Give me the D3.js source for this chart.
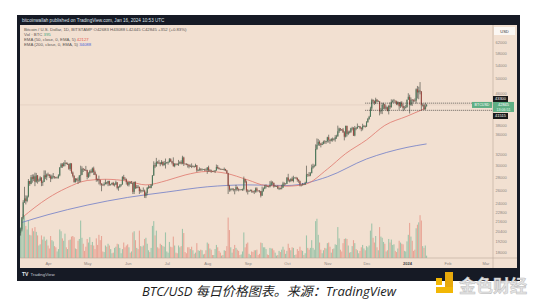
<!DOCTYPE html>
<html>
<head>
<meta charset="utf-8">
<script src="https://cdn.jsdelivr.net/npm/d3@7"></script>
<style>
html, body { margin: 0; padding: 0; background: #fff; }
svg { display: block; font-family: "Liberation Sans", Arial, sans-serif; }
</style>
</head>
<body>
<script>

// daily BTC/USD candles (Bitstamp), first day 2023-03-10, open of a day = previous close
var startDate = "2023-03-10";
var firstOpen = 20360;

var closes = [
  20190,20630,22150,24200,24750,24380,25050,27420,26960,28040,27770,28170,27300,28330,27480,27490,27990,27140,27270,28350,28030,28480,
  28460,28200,27800,28170,28170,28040,27920,27950,28330,29660,30230,29900,30400,30490,30320,30320,29440,30400,28820,28250,27270,27820,27590,27510,28300,28420,29470,29340,29240,29230,
  28070,28680,29030,28850,29530,28900,28430,27660,27620,27600,27000,26800,26790,26920,27180,27030,27400,26830,26890,27120,26750,26850,27220,26330,26480,26720,26860,28080,27750,27700,27220,
  26820,27250,27070,27120,25730,27230,26340,26500,26480,25840,25950,25900,25920,25130,25570,26340,26510,26340,26840,28310,30080,29890,30690,30540,30480,30270,30690,30080,30440,30470,
  30590,30620,31150,30770,30500,29900,30350,30290,30170,30410,30620,30390,31470,30330,30300,30250,30140,29860,29910,29810,29910,29810,30080,29180,29230,29350,29220,29320,29360,29280,29230,
  29700,29170,29180,29080,29050,29060,29180,29770,29580,29430,29400,29420,29290,29410,29170,28700,26620,26050,26100,26190,26120,26040,26430,26160,26060,26000,26090,26100,27720,27300,25930,
  25800,25870,25970,25820,25780,25750,26240,25910,25890,25830,25160,25840,26220,26530,26600,26560,26530,26760,27210,27120,26570,26580,26580,26250,26300,26220,26360,27020,26900,26970,
  27980,27510,27430,27790,27420,27950,27960,27930,27590,27390,26870,26760,26860,26850,27150,28500,28400,28330,28700,29670,29920,30000,33090,33900,34500,34150,33900,34100,34540,34500,34660,
  35440,34950,34740,35080,35040,35040,35440,35640,36700,37320,37140,37070,36500,35560,37880,36160,36600,36570,37350,37460,35800,37420,37300,37720,37800,37460,37250,37830,37860,37730,
  38690,39470,39980,41980,44080,43780,43300,44170,43720,43780,41240,41470,42880,43020,41930,42250,41360,42660,42270,43650,43860,43990,43730,43010,43580,42520,43440,42600,42070,42140,42280,
  44180,44950,42850,44180,44160,43970,43930,46970,46110,46630,46350,42780,42850,41730,42493,42845
];

var highs = [
  20370,20800,22180,24500,26500,25200,25200,27740,27450,28400,28500,28500,28800,28750,28400,27780,28200,28000,27500,29180,29170,28650,
  28800,28530,28480,28450,28740,28180,28100,28150,28530,29770,30480,30470,30620,31000,30600,30550,30320,30490,30400,29000,28370,27880,27820,28000,28400,30000,29880,29580,29440,29960,
  29300,28880,29270,29370,29690,29830,29150,28600,27820,28300,27620,27050,27000,27200,27660,27280,27470,27480,26970,27150,27280,27060,27480,27220,26600,26920,26930,28200,28430,28030,27820,
  27350,27300,27300,27420,27120,27340,27370,26800,26780,26530,26200,26000,26400,26070,25750,26480,26770,26680,26890,28400,30780,30500,31400,30800,31050,30650,31000,30700,30830,31280,
  30660,30780,31380,31330,30880,31500,30440,30380,30440,31030,30800,30970,31800,31620,30400,30450,30340,30240,30200,30400,30060,29990,30350,30100,29370,29700,29570,29530,29410,29460,29530,
  29730,30000,29400,29310,29110,29170,29240,30200,30100,29700,29520,29470,29450,29670,29450,29250,28770,26800,26260,26290,26260,26130,26800,26550,26270,26110,26160,26220,28140,27750,27500,
  26130,25970,26100,26080,25870,26000,26400,26430,25940,26000,25880,26540,26400,26800,26870,26650,26620,27400,27490,27380,27160,26740,26640,26720,26420,26390,26820,27300,27200,27080,
  28040,28600,27680,27830,28120,28280,28010,28100,27990,27730,27480,26820,27100,26960,27300,30000,28600,28900,28900,30200,30350,30200,34000,35200,35100,34800,34250,34450,34750,34850,34700,
  35550,35980,34970,35260,35390,35280,35900,35970,37950,37500,37400,37200,37430,36750,37950,37950,36850,36850,37470,37700,37600,37870,37640,38420,37900,37830,37580,38370,38100,38000,
  38970,39700,40200,42400,44450,44300,44000,44700,44370,44050,43780,42100,43400,43400,43090,42700,42430,42750,43490,44280,44200,44380,43800,43940,43800,43600,43680,43800,43120,42600,42880,
  44200,45900,45500,44770,44350,44230,44500,47230,47900,47700,49000,46500,43250,43080,43400,43088
];

var lows = [
  19570,19900,20400,21900,24100,23900,24200,24900,26650,26900,27150,27400,26600,27150,27000,27250,27400,26600,26650,27250,27720,27550,
  28250,27900,27250,27700,27840,27800,27800,27880,27800,28180,29650,29600,29870,29900,30230,30130,29270,29100,28600,28000,27140,27150,27330,26950,27200,27240,28380,28900,29100,29060,
  27680,27900,28130,28700,28800,28400,28380,27300,27350,26880,26700,25820,26700,26600,26880,26870,26600,26650,26670,26850,26700,26540,26800,26100,25900,26350,26550,26850,27560,27580,26850,
  26600,26550,26950,26970,25400,25400,26150,26230,26300,25400,25600,25650,25750,24830,24800,25200,26180,26280,26270,26640,28280,29570,29820,30300,30270,29900,30220,29900,30050,29500,
  30330,30180,30570,30650,30220,29850,29720,30050,30080,29950,30300,30220,30250,29950,30250,30080,29670,29530,29770,29580,29740,29640,29750,28880,29050,29100,29100,29140,29260,29040,29110,
  28600,28960,28960,28760,28960,28970,28730,29110,29400,29330,29300,29360,29250,29100,29050,28700,25400,25750,25800,25970,25800,25360,25800,25900,25800,25980,25970,25870,25920,27070,25650,
  25340,25730,25800,25600,25560,25400,25600,25650,25800,25600,24900,25130,25750,26130,26250,26470,26400,26400,26680,26800,26360,26520,26510,26140,26000,26090,26100,26340,26680,26880,
  26950,27310,27200,27240,27380,27200,27850,27720,27300,27130,26570,26560,26700,26820,26800,27120,28100,28170,28200,28700,29470,29700,29900,32900,33700,33700,33400,33850,34000,34100,34100,
  34350,34350,34100,34580,34550,34750,34540,35100,35560,36350,36760,36770,36350,34800,35400,35600,35900,36250,36330,36900,35700,35650,36950,37300,37600,37150,36720,36900,37630,37500,
  37650,38650,39280,39980,41430,43400,42840,43080,43600,43600,40300,40700,40600,41800,41700,41650,41250,40530,41800,42200,43400,43300,43300,42800,42750,41650,42100,42300,41300,41520,41960,
  42180,44200,40750,42650,42600,43470,43630,43200,44500,44300,45600,41500,42450,41700,41700,42445
];

var volumes = [
  7000,5200,6500,7400,7100,5400,4800,6300,3900,3800,5000,4500,5200,4400,3800,2100,2300,3800,3100,3600,2900,3100,
  2100,1600,3700,3000,2800,2000,1800,1100,1500,4800,4500,3300,2900,4100,1800,1500,3000,3100,3600,3700,3500,1600,1500,2900,3200,6300,3400,2400,1200,1900,
  3200,2600,3500,2200,2700,2100,1500,3300,2200,3900,3000,3700,1100,1000,2100,1900,2400,2100,1500,800,900,1700,1900,2400,2300,1700,800,1500,2600,1800,2100,
  2300,1800,900,1100,4300,4500,3000,1700,1500,4600,2000,1900,2100,3200,3400,2400,1300,1000,1700,5400,6200,3800,4600,1800,1600,2400,2200,2000,1900,4300,
  1100,900,2700,1900,1800,3600,2100,900,800,2100,1800,2000,4900,4200,1000,800,1800,1800,1500,1900,1300,700,900,2500,1300,1200,1400,1300,600,700,1300,
  2600,2400,1600,1400,500,500,1500,2200,1800,1200,900,400,500,1300,1200,2000,6800,4700,1800,900,1500,2200,1700,1400,1200,500,600,1100,4300,1800,2400,
  2600,700,500,1100,1000,1300,1300,1400,500,700,2600,2500,1800,1800,1500,600,500,1700,1600,1600,1300,900,400,500,1200,1000,1400,1900,1400,700,
  1200,2400,1700,1300,1800,1700,500,600,1500,1200,1900,1300,1200,500,800,3800,1700,1400,1700,3000,1700,1400,6200,6600,3900,2600,1400,800,1300,1700,1600,
  2500,2600,1900,900,1500,1600,2300,2200,5200,3300,1400,1100,2500,3200,3300,3200,2100,900,1000,2000,3000,2500,1500,1300,800,1200,1800,2200,1600,1300,
  2000,1800,2100,4600,5800,3400,2600,3700,1800,1300,5200,3600,3400,2700,2400,1100,1300,3200,2600,3100,2200,2300,1200,1000,1600,2900,2600,2400,2300,1200,1100,
  2800,3900,5900,3600,2900,1200,1400,5000,5600,6000,7200,6300,2000,1700,2100,395
];

// EMA values
var ema50Dates = ["2023-03-12","2023-04-01","2023-04-15","2023-05-01","2023-05-15","2023-06-01","2023-06-15","2023-07-01","2023-07-15","2023-08-01","2023-08-15","2023-09-01","2023-09-15","2023-10-01","2023-10-15","2023-11-01","2023-11-15","2023-12-01","2023-12-15","2024-01-01","2024-01-16"];
var ema50Values = [22100,24800,26300,27500,27700,27400,26800,27500,28400,29000,28700,27600,26700,26600,26900,29400,32200,34900,38000,40100,42127];
var ema200Dates = ["2023-03-12","2023-04-01","2023-05-01","2023-06-01","2023-07-01","2023-08-01","2023-09-01","2023-10-01","2023-11-01","2023-12-01","2024-01-01","2024-01-16"];
var ema200Values = [21500,22500,23800,24900,25700,26500,26800,26700,28100,31200,33400,34088];

var monthTicks = ["2023-04-01","2023-05-01","2023-06-01","2023-07-01","2023-08-01","2023-09-01","2023-10-01","2023-11-01","2023-12-01","2024-01-01","2024-02-01","2024-03-01"];
var monthLabels = ["Apr","May","Jun","Jul","Aug","Sep","Oct","Nov","Dec","2024","Feb","Mar"];
var priceTicks = [62000,58000,54000,50000,46000,38000,36000,32000,30000,28000,26000,24000,22800,21600,20400,19200,18000];

var lastPrice = 42845;
var lineLevels = [43300, 41515];
var lineStart = "2023-11-30";

var legendTitle = "Bitcoin / U.S. Dollar, 1D, BITSTAMP  O42683  H43088  L42445  C42845  +352 (+0.83%)";

var W = 540, H = 304;
var plot = {left: 20, right: 493, top: 25, bottom: 258};

var parse = function(s) { return new Date(s + "T00:00:00Z"); };

var x = d3.scaleUtc()
    .domain([parse("2023-04-01"), parse("2024-01-01")])
    .range([48, 407]);

var y = d3.scaleLog()
    .domain([17450, 68500])
    .range([plot.bottom, plot.top]);

var yVol = d3.scaleLinear()
    .domain([0, 7400])
    .range([plot.bottom, plot.bottom - 44]);

var t0 = parse(startDate);
var data = closes.map(function(c, i) {
  return {
    date: d3.utcDay.offset(t0, i),
    open: i ? closes[i - 1] : firstOpen,
    high: highs[i],
    low: lows[i],
    close: c,
    vol: volumes[i]
  };
});

var svg = d3.select("body").append("svg")
    .attr("width", W)
    .attr("height", H);

// dark TradingView frame + beige pane
svg.append("rect").attr("x", 17).attr("y", 15).attr("width", 503).attr("height", 266).attr("fill", "#161a25");
svg.append("rect").attr("x", 20).attr("y", 25).attr("width", 497).attr("height", 243).attr("fill", "#f2e0d1");

svg.append("defs").append("clipPath").attr("id", "clip")
  .append("rect")
    .attr("x", plot.left).attr("y", plot.top)
    .attr("width", plot.right - plot.left).attr("height", plot.bottom - plot.top);

var main = svg.append("g").attr("clip-path", "url(#clip)");

// volume
main.append("g").selectAll("rect")
  .data(data)
  .enter().append("rect")
    .attr("x", function(d) { return x(d.date) - 0.55; })
    .attr("y", function(d) { return yVol(d.vol); })
    .attr("width", 1.1)
    .attr("height", function(d) { return plot.bottom - yVol(d.vol); })
    .attr("fill", function(d) { return d.close >= d.open ? "#9fc4aa" : "#e8a596"; });

// last price line
main.append("line")
    .attr("x1", plot.left).attr("x2", plot.right)
    .attr("y1", y(lastPrice)).attr("y2", y(lastPrice))
    .attr("stroke", "#8a6a5a").attr("stroke-opacity", 0.18).attr("stroke-width", 0.6);

// EMA lines
var emaLine = d3.line()
    .x(function(d) { return x(d[0]); })
    .y(function(d) { return y(d[1]); })
    .curve(d3.curveMonotoneX);

main.append("path")
    .datum(ema200Dates.map(function(s, i) { return [parse(s), ema200Values[i]]; }))
    .attr("d", emaLine)
    .attr("fill", "none").attr("stroke", "#6f7cc8").attr("stroke-width", 0.8);

main.append("path")
    .datum(ema50Dates.map(function(s, i) { return [parse(s), ema50Values[i]]; }))
    .attr("d", emaLine)
    .attr("fill", "none").attr("stroke", "#e0766c").attr("stroke-width", 0.8);

// candles
var candle = main.append("g").selectAll("g")
  .data(data)
  .enter().append("g");

candle.append("line")
    .attr("x1", function(d) { return x(d.date); })
    .attr("x2", function(d) { return x(d.date); })
    .attr("y1", function(d) { return y(d.high); })
    .attr("y2", function(d) { return y(d.low); })
    .attr("stroke", "#3b3f38").attr("stroke-width", 0.6);

candle.append("rect")
    .attr("x", function(d) { return x(d.date) - 0.55; })
    .attr("y", function(d) { return y(Math.max(d.open, d.close)); })
    .attr("width", 1.1)
    .attr("height", function(d) { return Math.max(0.6, Math.abs(y(d.open) - y(d.close))); })
    .attr("fill", function(d) { return d.close >= d.open ? "#4d7a5c" : "#9e4a42"; });

// horizontal dotted level lines
main.selectAll(".level")
  .data(lineLevels)
  .enter().append("line")
    .attr("x1", x(parse(lineStart))).attr("x2", plot.right)
    .attr("y1", function(d) { return y(d); })
    .attr("y2", function(d) { return y(d); })
    .attr("stroke", "#2a2a2a").attr("stroke-width", 0.7)
    .attr("stroke-dasharray", "1,1");

// axes lines
svg.append("line").attr("x1", plot.right).attr("x2", plot.right).attr("y1", 25).attr("y2", 268)
    .attr("stroke", "#b9a99c").attr("stroke-width", 0.6);
svg.append("line").attr("x1", 20).attr("x2", 517).attr("y1", plot.bottom).attr("y2", plot.bottom)
    .attr("stroke", "#b9a99c").attr("stroke-width", 0.6);

// price axis labels
var yAxis = d3.axisRight(y)
    .tickValues(priceTicks)
    .tickFormat(d3.format("d"))
    .tickSize(0)
    .tickPadding(2.5);

var gy = svg.append("g")
    .attr("transform", "translate(" + plot.right + ",0)")
    .call(yAxis);
gy.select(".domain").remove();
gy.selectAll("text").attr("font-size", 4).attr("fill", "#8b8480").attr("font-family", "Liberation Sans, Arial, sans-serif");

// time axis labels
var xAxis = d3.axisBottom(x)
    .tickValues(monthTicks.map(parse))
    .tickFormat(function(d, i) { return monthLabels[i]; })
    .tickSize(0)
    .tickPadding(4);

var gx = svg.append("g")
    .attr("transform", "translate(0," + plot.bottom + ")")
    .call(xAxis);
gx.select(".domain").remove();
gx.selectAll("text")
    .attr("font-size", 4)
    .attr("font-family", "Liberation Sans, Arial, sans-serif")
    .attr("fill", function(d, i) { return monthLabels[i] === "2024" ? "#444" : "#8b8480"; })
    .attr("font-weight", function(d, i) { return monthLabels[i] === "2024" ? "bold" : "normal"; });

// USD box
svg.append("rect").attr("x", 494).attr("y", 27).attr("width", 21).attr("height", 8).attr("fill", "#fbf7f3");
svg.append("text").attr("x", 504.5).attr("y", 32.6).attr("text-anchor", "middle")
    .attr("font-size", 4).attr("fill", "#333").text("USD");

// level boxes
var levelBoxY = [99, 116];
lineLevels.forEach(function(v, i) {
  svg.append("rect").attr("x", 493).attr("y", levelBoxY[i] - 3).attr("width", 15).attr("height", 6).attr("fill", "#1a1a1a");
  svg.append("text").attr("x", 500.5).attr("y", levelBoxY[i] + 1.4).attr("text-anchor", "middle")
      .attr("font-size", 4).attr("fill", "#fff").text(v);
});

// last price boxes
svg.append("rect").attr("x", 472).attr("y", y(lastPrice) - 3).attr("width", 20).attr("height", 6).attr("fill", "#5fae84");
svg.append("text").attr("x", 482).attr("y", y(lastPrice) + 1.4).attr("text-anchor", "middle")
    .attr("font-size", 3.6).attr("fill", "#fff").text("BTCUSD");
svg.append("rect").attr("x", 493).attr("y", y(lastPrice) - 3).attr("width", 21).attr("height", 10).attr("fill", "#5fae84");
svg.append("text").attr("x", 503.5).attr("y", y(lastPrice) + 1.4).attr("text-anchor", "middle")
    .attr("font-size", 4).attr("fill", "#fff").text(lastPrice);
svg.append("text").attr("x", 503.5).attr("y", y(lastPrice) + 5.6).attr("text-anchor", "middle")
    .attr("font-size", 3.6).attr("fill", "#eafff2").text("13:06:51");

// header
svg.append("text").attr("x", 22).attr("y", 21.8)
    .attr("font-size", 4.6).attr("fill", "#dfe2ea")
    .text("bitcoinwallah published on TradingView.com, Jan 16, 2024 10:53 UTC");

// legend
var legend = svg.append("g").attr("font-size", 4.3).attr("fill", "#5a5552");
legend.append("text").attr("x", 24).attr("y", 30.8).text(legendTitle);
var l2 = legend.append("text").attr("x", 24).attr("y", 35.8);
l2.append("tspan").text("Vol · BTC  ");
l2.append("tspan").attr("fill", "#3fa57c").text("395");
var l3 = legend.append("text").attr("x", 24).attr("y", 40.9);
l3.append("tspan").text("EMA (50, close, 0, EMA, 5)  ");
l3.append("tspan").attr("fill", "#e2574c").text("42127");
var l4 = legend.append("text").attr("x", 24).attr("y", 46.4);
l4.append("tspan").text("EMA (200, close, 0, EMA, 5)  ");
l4.append("tspan").attr("fill", "#4f63d8").text("34088");

// bottom bar logo
svg.append("text").attr("x", 22).attr("y", 276.2).attr("font-size", 5).attr("font-weight", "bold")
    .attr("fill", "#e8eaef").text("TV");
svg.append("text").attr("x", 30.5).attr("y", 276).attr("font-size", 4.4)
    .attr("fill", "#c8ccd6").text("TradingView");

// caption
svg.append("text")
    .attr("x", 269).attr("y", 296)
    .attr("text-anchor", "middle")
    .attr("font-size", 13)
    .attr("font-style", "italic")
    .attr("font-family", "'Open Sans', 'Noto Sans CJK SC', sans-serif")
    .attr("fill", "#1e1e1e")
    .text("BTC/USD 每日价格图表。来源：TradingView");

// watermark logo
var logo = svg.append("g");
logo.append("rect").attr("x", 436).attr("y", 278).attr("width", 6).attr("height", 7).attr("fill", "#f2b705");
logo.append("rect").attr("x", 445).attr("y", 272).attr("width", 8).attr("height", 20).attr("fill", "#e8a90c");
logo.append("rect").attr("x", 436).attr("y", 287).attr("width", 17).attr("height", 6).attr("fill", "#f2b705");
logo.append("text").attr("x", 459).attr("y", 292)
    .attr("font-size", 17).attr("font-weight", "bold")
    .attr("font-family", "'Noto Sans CJK SC', sans-serif")
    .attr("fill", "#e4e4e4").attr("stroke", "#bdbdbd").attr("stroke-width", 0.5)
    .text("金色财经");

</script>
</body>
</html>
